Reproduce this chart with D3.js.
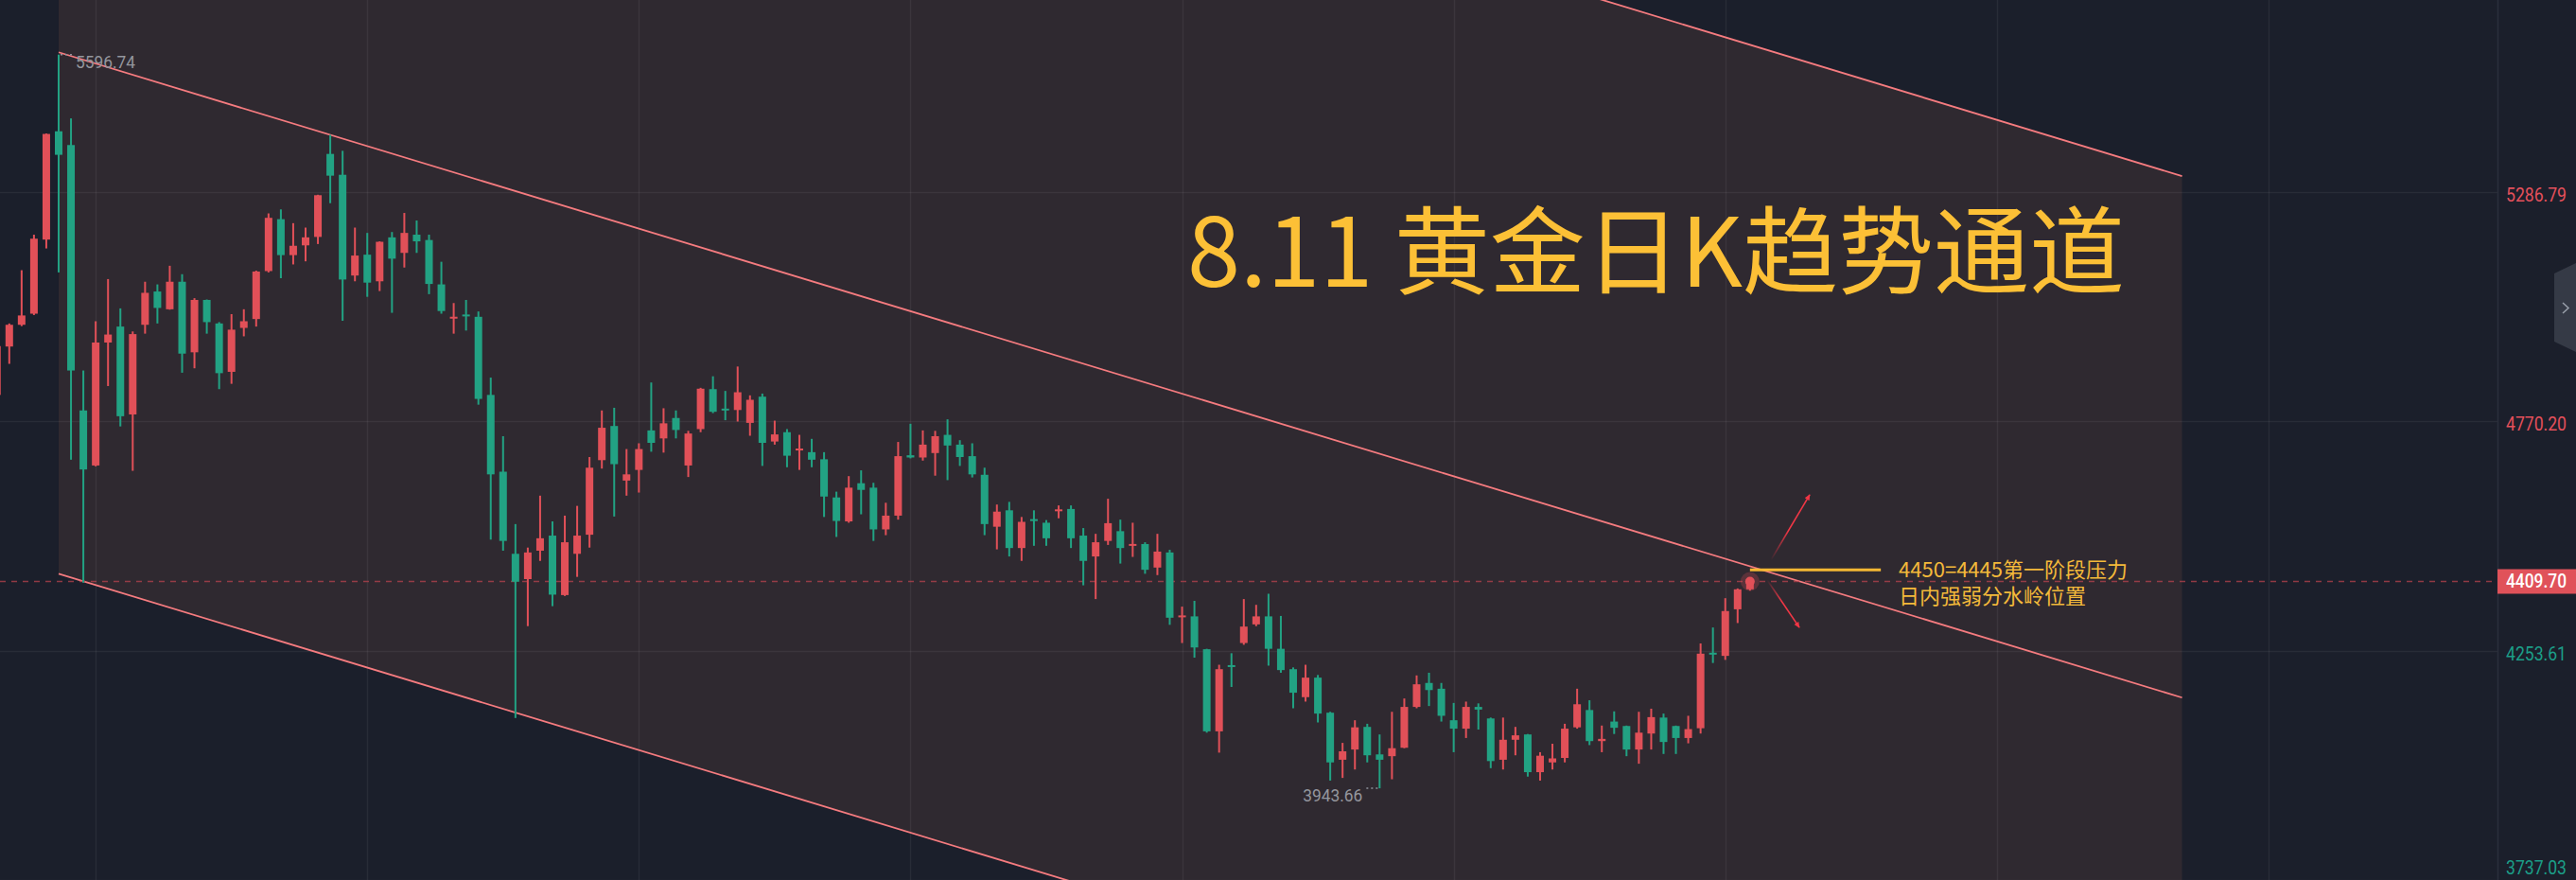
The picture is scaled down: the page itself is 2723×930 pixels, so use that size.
<!DOCTYPE html>
<html><head><meta charset="utf-8">
<script src="https://cdn.jsdelivr.net/npm/d3@7"></script>
<style>html,body{margin:0;padding:0;background:#1b1f2b;overflow:hidden}</style>
</head><body>
<svg id="chart" width="2723" height="930"></svg>
<script>
// ---- data (daily bars, index 0..142) ----
const opens  = [4830,4939,4988,5013,5180,5424,5393,4795,4671,4948,4984,4786,4988,5063,5023,5085,4926,5044,4991,4882,4981,5001,5109,5226,5145,5167,5186,5373,5326,5099,5146,5086,5185,5150,5191,5179,5079,5001,5009,5006,4830,4657,4472,4415,4479,4513,4379,4472,4515,4683,4760,4637,4661,4750,4732,4778,4671,4753,4843,4797,4796,4767,4826,4725,4746,4704,4701,4685,4599,4545,4631,4621,4527,4558,4694,4689,4699,4740,4718,4692,4650,4533,4570,4485,4548,4542,4568,4573,4513,4466,4501,4523,4489,4494,4441,4475,4328,4331,4257,4072,4219,4271,4313,4331,4258,4212,4149,4193,4114,4008,4031,4082,4020,4016,4035,4127,4181,4168,4097,4078,4127,4101,4008,4053,4065,3980,4002,4012,4081,4120,4050,4094,4084,4031,4067,4103,4084,4057,4079,4247,4242,4347,4392];
const highs  = [4952,4991,5111,5191,5419,5596.74,5453,4885,4996,5091,5025,4973,5085,5079,5121,5102,5048,5045,4994,5012,5023,5110,5239,5248,5217,5207,5281,5416,5380,5207,5195,5176,5197,5240,5223,5191,5130,5037,5044,5018,4869,4737,4539,4486,4603,4545,4558,4580,4690,4795,4801,4708,4721,4858,4800,4795,4749,4846,4872,4839,4894,4829,4833,4772,4753,4740,4731,4701,4612,4647,4660,4632,4587,4724,4765,4750,4749,4775,4728,4721,4666,4583,4589,4555,4570,4548,4581,4581,4530,4517,4596,4549,4542,4498,4517,4481,4353,4366,4258,4222,4248,4370,4357,4382,4332,4216,4222,4199,4116,4046,4097,4089,4065,4116,4146,4198,4204,4181,4136,4139,4135,4103,4103,4082,4066,4025,4044,4089,4168,4142,4085,4117,4085,4116,4123,4112,4085,4107,4270,4306,4372,4394,4419];
const lows   = [4824,4900,4985,5010,5160,5106,4684,4407,4669,4850,4759,4659,4968,4991,5022,4880,4890,4968,4843,4855,4962,4984,5106,5093,5124,5131,5170,5262,4997,5086,5051,5064,5015,5117,5150,5057,5013,4968,4975,4808,4504,4479,4102,4309,4456,4354,4377,4420,4486,4664,4556,4603,4610,4702,4700,4732,4645,4746,4789,4773,4770,4738,4670,4718,4667,4661,4667,4555,4510,4542,4561,4501,4514,4549,4687,4682,4648,4638,4670,4644,4514,4482,4466,4456,4490,4490,4552,4485,4401,4370,4492,4450,4465,4427,4424,4312,4271,4238,4069,4024,4172,4267,4309,4220,4204,4124,4139,4092,3961,3967,3986,4002,3943.66,3964,4034,4124,4129,4094,4025,4057,4076,3989,3986,4018,3970,3961,3986,4002,4078,4041,4025,4066,4016,3999,4031,4021,4021,4045,4067,4226,4233,4316,4389];
const closes = [4940,4988,5009,5182,5418,5371,4885,4662,4948,4966,4782,4967,5060,5026,5085,4923,5044,4994,4879,4977,4996,5108,5229,5145,5166,5185,5280,5324,5090,5144,5083,5175,5137,5195,5176,5080,5019,5004,5006,4821,4651,4501,4409,4475,4507,4380,4498,4513,4666,4756,4674,4651,4708,4722,4766,4751,4743,4844,4792,4793,4836,4819,4722,4741,4693,4707,4684,4601,4546,4621,4616,4527,4558,4692,4689,4718,4737,4716,4690,4651,4539,4567,4485,4544,4546,4507,4570,4507,4456,4498,4541,4485,4492,4436,4477,4328,4331,4261,4072,4212,4216,4308,4331,4258,4210,4159,4193,4112,4002,4027,4081,4018,4008,4034,4127,4178,4165,4107,4078,4127,4121,4005,4053,4063,3980,4017,4011,4078,4133,4050,4055,4080,4031,4069,4104,4048,4057,4077,4247,4243,4343,4392,4409.70];

// price axis ticks and vertical grid bar indices
const priceTicks = [5286.79, 4770.20, 4253.61, 3737.03];
const gridBars   = [8, 30, 52, 74, 96, 118, 140, 162, 184];
const lastPrice  = 4409.70;

// marked extremes
const highMark = {bar: 5,   value: 5596.74, label: "5596.74"};
const lowMark  = {bar: 112, value: 3943.66, label: "3943.66"};

// trend channel (middle line anchors + half width)
const channelBars = [5, 177];
const channelMid  = [5602, 4148];
const channelGap  = 1175;

// annotation
const titleText   = "8.11 黄金日K趋势通道";
const noteLevel   = 4436;
const noteBars    = [142, 152.6, 154.05];
const noteLines   = ["4450=4445第一阶段压力", "日内强弱分水岭位置"];
const arrowUp     = [[143.7, 4458], [146.84, 4605]];
const arrowDown   = [[143.4, 4413], [146.0, 4306]];

// ---- layout ----
const W = 2723, H = 930, plotR = 2640;
const svg = d3.select("#chart");
const x = d3.scaleLinear().domain([0, 202.55]).range([-3.25, plotR]);
const y = d3.scaleLinear().domain([3737.03, 5719.8]).range([H, 0]);
const UP = "#e15058", DOWN = "#22a283";

svg.append("rect").attr("width", W).attr("height", H).attr("fill", "#1b1f2b");
const defs = svg.append("defs");
defs.append("clipPath").attr("id", "plot").append("rect").attr("width", plotR).attr("height", H);

const plot = svg.append("g").attr("clip-path", "url(#plot)");

// channel shading
const chanPt = (k, off) => [x(channelBars[k]), y(channelMid[k] + off)];
plot.append("path")
  .attr("d", d3.line()([chanPt(0, channelGap), chanPt(1, channelGap), chanPt(1, -channelGap), chanPt(0, -channelGap)]) + "Z")
  .attr("fill", "#2f2930");

// grid
plot.append("g").selectAll("line").data(priceTicks).join("line")
  .attr("x1", 0).attr("x2", plotR).attr("y1", d => Math.round(y(d)) + 0.5).attr("y2", d => Math.round(y(d)) + 0.5)
  .attr("stroke", "rgba(255,255,255,0.06)").attr("stroke-width", 1.5);
plot.append("g").selectAll("line").data(gridBars).join("line")
  .attr("y1", 0).attr("y2", H).attr("x1", d => Math.round(x(d)) + 0.5).attr("x2", d => Math.round(x(d)) + 0.5)
  .attr("stroke", "rgba(255,255,255,0.06)").attr("stroke-width", 1.5);

// channel lines
[channelGap, 0, -channelGap].forEach(off => {
  plot.append("path").attr("d", d3.line()([chanPt(0, off), chanPt(1, off)]))
    .attr("stroke", "#f57b7f").attr("stroke-width", 1.8).attr("fill", "none");
});

// last price dashed line
plot.append("line").attr("x1", 0).attr("x2", plotR).attr("y1", y(lastPrice)).attr("y2", y(lastPrice))
  .attr("stroke", "#b8434e").attr("stroke-opacity", 0.75).attr("stroke-width", 1.5).attr("stroke-dasharray", "6,6");

// candles
const bars = d3.range(opens.length).map(i => ({i, o: opens[i], h: highs[i], l: lows[i], c: closes[i]}));
const cg = plot.append("g");
cg.selectAll("rect.wick").data(bars).join("rect").attr("class", "wick")
  .attr("x", d => x(d.i) - 1).attr("width", 2)
  .attr("y", d => y(d.h)).attr("height", d => y(d.l) - y(d.h))
  .attr("fill", d => d.c >= d.o ? UP : DOWN);
cg.selectAll("rect.body").data(bars).join("rect").attr("class", "body")
  .attr("x", d => x(d.i) - 4).attr("width", 8)
  .attr("y", d => Math.min(y(d.o), y(d.c)) - (Math.abs(y(d.o) - y(d.c)) < 2 ? 1 : 0))
  .attr("height", d => Math.max(2, Math.abs(y(d.o) - y(d.c))))
  .attr("fill", d => d.c >= d.o ? UP : DOWN);

// glow at last close
const last = bars[bars.length - 1];
plot.append("circle").attr("cx", x(last.i)).attr("cy", y(last.c)).attr("r", 10).attr("fill", UP).attr("opacity", 0.25);
plot.append("circle").attr("cx", x(last.i)).attr("cy", y(last.c)).attr("r", 5).attr("fill", UP);

// extreme markers
const markFont = "Roboto, 'DejaVu Sans', sans-serif";
function extreme(m, side) {
  const px = x(m.bar), py = y(m.value);
  const x0 = side > 0 ? px + 2 : px - 2, x1 = side > 0 ? px + 16 : px - 16;
  plot.append("line").attr("x1", x0).attr("x2", x1).attr("y1", py).attr("y2", py)
    .attr("stroke", "#8d9099").attr("stroke-width", 1.5).attr("stroke-dasharray", "2,3");
  plot.append("text").attr("x", side > 0 ? x1 + 2 : x1 - 2).attr("y", py + 14)
    .attr("text-anchor", side > 0 ? "start" : "end")
    .attr("font-family", markFont).attr("font-size", 18).attr("fill", "#94969d")
    .attr("textLength", 63).attr("lengthAdjust", "spacingAndGlyphs").text(m.label);
}
extreme(highMark, 1);
extreme(lowMark, -1);

// annotation lines & arrows
const grad = (id, a, b) => {
  const g = defs.append("linearGradient").attr("id", id).attr("gradientUnits", "userSpaceOnUse")
    .attr("x1", x(a[0])).attr("y1", y(a[1])).attr("x2", x(b[0])).attr("y2", y(b[1]));
  g.append("stop").attr("offset", 0).attr("stop-color", "#f23645").attr("stop-opacity", 0);
  g.append("stop").attr("offset", 0.45).attr("stop-color", "#f23645").attr("stop-opacity", 1);
  g.append("stop").attr("offset", 1).attr("stop-color", "#f23645").attr("stop-opacity", 1);
};
defs.append("marker").attr("id", "ah").attr("viewBox", "0 0 10 10").attr("refX", 8).attr("refY", 5)
  .attr("markerWidth", 7).attr("markerHeight", 7).attr("markerUnits", "userSpaceOnUse").attr("orient", "auto")
  .append("path").attr("d", "M0,1 L9,5 L0,9 Z").attr("fill", "#f23645");
[[arrowUp, "gu"], [arrowDown, "gd"]].forEach(([a, id]) => {
  grad(id, a[0], a[1]);
  plot.append("line").attr("x1", x(a[0][0])).attr("y1", y(a[0][1])).attr("x2", x(a[1][0])).attr("y2", y(a[1][1]))
    .attr("stroke", `url(#${id})`).attr("stroke-width", 1.6).attr("marker-end", "url(#ah)");
});

plot.append("line").attr("x1", x(noteBars[0])).attr("x2", x(noteBars[1])).attr("y1", y(noteLevel)).attr("y2", y(noteLevel))
  .attr("stroke", "#f6b833").attr("stroke-width", 3);
const cjk = "'Noto Sans CJK SC', 'Noto Sans', sans-serif";
noteLines.forEach((t, k) => {
  svg.append("text").attr("x", x(noteBars[2])).attr("y", y(noteLevel) + 8 + k * 28)
    .attr("font-family", cjk).attr("font-size", 22).attr("fill", "#f3b93a").text(t);
});

// title
svg.append("text").attr("x", 1255).attr("y", 303).attr("font-family", cjk).attr("font-size", 101)
  .attr("fill", "#fcc036").text(titleText);

// ---- right price axis ----
svg.append("line").attr("x1", plotR + 0.5).attr("x2", plotR + 0.5).attr("y1", 0).attr("y2", H)
  .attr("stroke", "#2a2f3c").attr("stroke-width", 1.5);
svg.append("g").selectAll("text").data(priceTicks).join("text")
  .attr("x", 2649).attr("y", d => Math.min(y(d) + 10, 924))
  .attr("font-family", markFont).attr("font-size", 19.5)
  .attr("textLength", 64).attr("lengthAdjust", "spacingAndGlyphs")
  .attr("fill", d => d > lastPrice ? "#e4505b" : "#1c9e88")
  .text(d => d.toFixed(2));
svg.append("rect").attr("x", plotR).attr("y", y(lastPrice) - 13).attr("width", W - plotR).attr("height", 26).attr("fill", "#e0525a");
svg.append("text").attr("x", 2649).attr("y", y(lastPrice) + 7)
  .attr("font-family", markFont).attr("font-size", 19.5).attr("font-weight", 500).attr("fill", "#ffffff")
  .attr("textLength", 64).attr("lengthAdjust", "spacingAndGlyphs").text(lastPrice.toFixed(2));

// collapse tab
svg.append("path").attr("d", "M2700,289 L2723,278 L2723,372 L2700,361 Z").attr("fill", "#353a46");
svg.append("path").attr("d", "M2709,320 L2715,325.5 L2709,331").attr("fill", "none").attr("stroke", "#9aa0ab").attr("stroke-width", 1.5);
</script>
</body></html>
